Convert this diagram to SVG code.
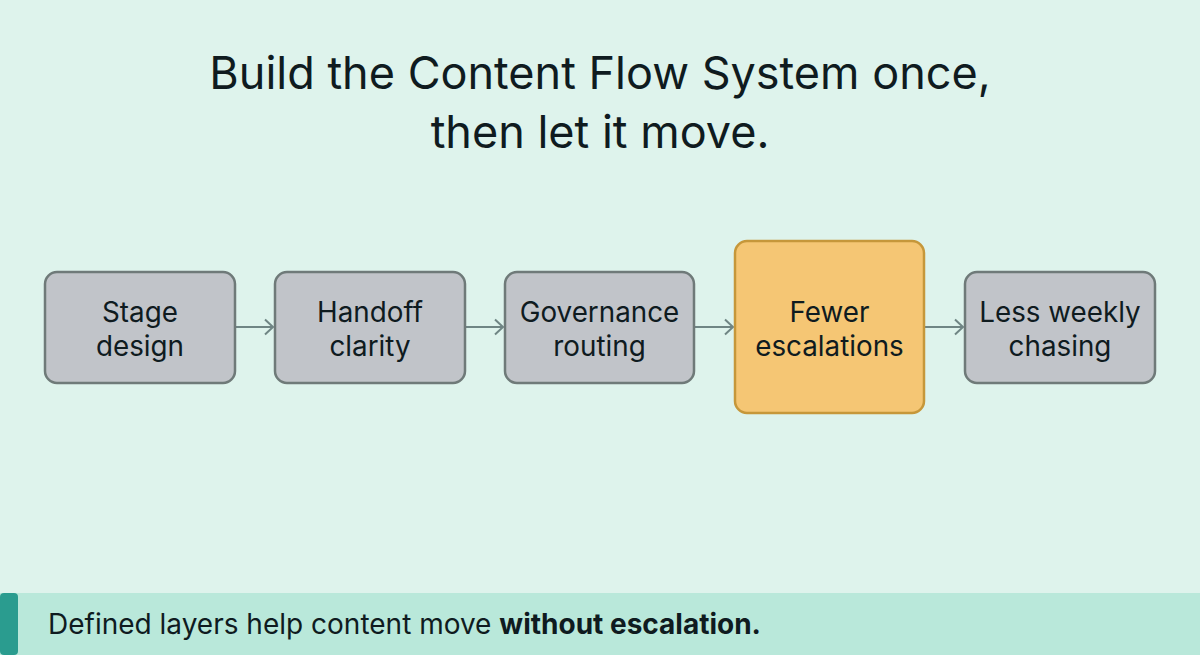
<svg xmlns="http://www.w3.org/2000/svg" width="1200" height="655" viewBox="0 0 1200 655">
<style>
text{font-family:Inter,"Liberation Sans",sans-serif;fill:#0f1b1f}
.title{font-size:45px;text-anchor:middle}
.lbl{font-size:27.8px;text-anchor:middle}
.box{fill:#c1c4c9;stroke:#6f7a79;stroke-width:2.5}
.hi{fill:#f5c674;stroke:#c6973a;stroke-width:2.5}
.conn{stroke:#6f8584;stroke-width:2;fill:none}
.foot{font-size:28px}
</style>
<defs>
<marker id="arr" viewBox="0 0 12 18" refX="10" refY="9" markerWidth="12" markerHeight="18" markerUnits="userSpaceOnUse" orient="auto">
<path d="M2,1.5 L10,9 L2,16.5" fill="none" stroke="#6f8584" stroke-width="2"/>
</marker>
</defs>
<rect width="1200" height="655" fill="#def3ec"/>
<g id="title">
<text class="title" x="600" y="89">Build the Content Flow System once,</text>
<text class="title" x="600" y="148">then let it move.</text>
</g>
<g id="connectors">
<line class="conn" x1="236" y1="327" x2="273" y2="327" marker-end="url(#arr)"/>
<line class="conn" x1="466" y1="327" x2="503" y2="327" marker-end="url(#arr)"/>
<line class="conn" x1="695" y1="327" x2="733" y2="327" marker-end="url(#arr)"/>
<line class="conn" x1="925" y1="327" x2="963" y2="327" marker-end="url(#arr)"/>
</g>
<g id="n1">
<rect class="box" x="45" y="272" width="190" height="111" rx="12"/>
<text class="lbl" x="140" y="322">Stage</text>
<text class="lbl" x="140" y="356">design</text>
</g>
<g id="n2">
<rect class="box" x="275" y="272" width="190" height="111" rx="12"/>
<text class="lbl" x="370" y="322">Handoff</text>
<text class="lbl" x="370" y="356">clarity</text>
</g>
<g id="n3">
<rect class="box" x="505" y="272" width="189" height="111" rx="12"/>
<text class="lbl" x="599.5" y="322">Governance</text>
<text class="lbl" x="599.5" y="356">routing</text>
</g>
<g id="n4">
<rect class="hi" x="735" y="241" width="189" height="172" rx="12"/>
<text class="lbl" x="829.5" y="322">Fewer</text>
<text class="lbl" x="829.5" y="356">escalations</text>
</g>
<g id="n5">
<rect class="box" x="965" y="272" width="190" height="111" rx="12"/>
<text class="lbl" x="1060" y="322">Less weekly</text>
<text class="lbl" x="1060" y="356">chasing</text>
</g>
<g id="footer">
<rect x="0" y="593" width="1200" height="62" fill="#b9e8da"/>
<rect x="0" y="593" width="18" height="62" rx="4" fill="#2a9c8f"/>
<text class="foot" x="48" y="634">Defined layers help content move <tspan font-weight="bold">without escalation.</tspan></text>
</g>
</svg>
